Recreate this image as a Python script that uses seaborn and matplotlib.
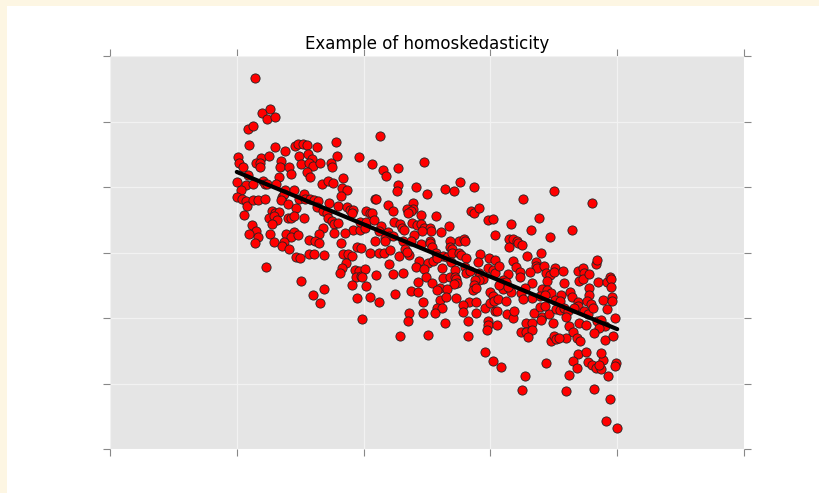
import numpy as np
import pandas as pd
import matplotlib
matplotlib.use("Agg")
import matplotlib.pyplot as plt
from matplotlib.patches import Rectangle
import seaborn as sns

# Observations, grouped by region of the x range (x, y)
pts_left_upper = [
    (1.14, 5.66), (1.20, 5.13), (1.26, 5.19), (1.24, 5.04), (1.30, 5.07), (1.09, 4.88), (1.13, 4.93),
    (1.10, 4.64), (1.30, 4.61), (1.38, 4.55), (1.46, 4.63), (1.48, 4.65), (1.52, 4.65), (1.55, 4.64),
    (1.63, 4.61), (1.78, 4.69), (1.49, 4.48), (1.56, 4.51), (1.59, 4.42), (1.79, 4.47), (1.96, 4.46),
    (1.01, 4.46), (1.02, 4.37), (1.05, 4.30), (1.19, 4.45), (1.15, 4.37), (1.18, 4.36), (1.18, 4.31),
    (1.25, 4.47), (1.35, 4.39), (1.34, 4.31), (1.41, 4.31), (1.43, 4.20), (1.33, 4.15), (1.51, 4.35),
    (1.57, 4.36), (1.60, 4.32), (1.55, 4.23), (1.58, 4.16), (1.66, 4.37), (1.74, 4.36), (1.75, 4.31),
    (1.09, 4.18), (1.00, 4.07), (1.07, 4.03), (1.13, 4.04), (1.21, 4.09), (1.22, 4.05), (1.24, 4.04),
    (1.31, 4.04), (1.67, 4.05), (1.72, 4.09), (1.76, 4.06), (1.84, 4.13), (1.83, 3.98), (1.87, 3.96),
    (1.38, 3.96), (1.45, 3.96), (1.03, 3.95),
]
pts_left_lower = [
    (1.00, 3.84), (1.04, 3.81), (1.07, 3.78), (1.08, 3.71), (1.13, 3.80), (1.17, 3.80), (1.22, 3.81),
    (1.06, 3.57), (1.28, 3.64), (1.30, 3.61), (1.33, 3.62), (1.25, 3.53), (1.29, 3.55), (1.32, 3.50),
    (1.28, 3.43), (1.36, 3.85), (1.37, 3.89), (1.35, 3.80), (1.40, 3.74), (1.47, 3.68), (1.49, 3.82),
    (1.53, 3.89), (1.54, 3.82), (1.58, 3.81), (1.61, 3.80), (1.64, 3.79), (1.40, 3.53), (1.43, 3.53),
    (1.45, 3.55), (1.53, 3.52), (1.63, 3.70), (1.68, 3.64), (1.71, 3.61), (1.72, 3.52), (1.75, 3.48),
    (1.77, 3.44), (1.80, 3.45), (1.73, 3.75), (1.80, 3.71), (1.82, 3.86), (1.87, 3.70), (1.89, 3.65),
    (1.92, 3.65), (1.91, 3.60), (1.92, 3.35), (1.97, 3.35), (1.85, 3.30), (1.77, 3.30), (1.68, 3.38),
    (1.65, 3.29), (1.57, 3.19), (1.62, 3.18), (1.65, 3.14), (1.82, 3.14), (1.12, 3.42), (1.15, 3.33),
    (1.10, 3.29), (1.17, 3.24), (1.14, 3.15), (1.26, 3.29), (1.29, 3.16), (1.39, 3.29), (1.45, 3.32),
    (1.43, 3.24), (1.48, 3.26), (1.37, 3.16), (1.36, 3.10), (1.41, 3.06), (1.47, 2.93), (1.50, 2.92),
    (1.57, 2.97), (1.61, 2.97), (1.69, 2.96), (1.84, 2.97), (1.88, 2.97), (1.91, 2.94), (1.86, 2.84),
    (1.83, 2.77), (1.81, 2.68), (1.93, 2.74), (1.96, 2.72), (1.94, 2.63), (1.98, 2.64), (1.95, 3.08),
    (1.98, 3.07), (1.23, 2.78), (1.51, 2.56), (1.69, 2.45), (1.91, 2.50), (1.60, 2.35), (1.66, 2.23),
    (1.95, 2.30),
]
pts_mid_upper = [
    (2.13, 4.78), (2.07, 4.35), (2.15, 4.26), (2.18, 4.17), (2.27, 4.29), (2.48, 4.38), (2.27, 4.03),
    (2.26, 3.94), (2.41, 4.00), (2.50, 3.90), (2.64, 3.97), (2.71, 3.94), (2.76, 4.07), (2.87, 4.00),
    (2.09, 3.82), (2.10, 3.82), (2.19, 3.73), (2.39, 3.75), (2.39, 3.67), (2.34, 3.66), (2.37, 3.64),
    (2.35, 3.61), (2.23, 3.63), (2.02, 3.64), (2.05, 3.60), (2.07, 3.60), (2.45, 3.58), (2.57, 3.56),
    (2.85, 3.64), (2.87, 3.60), (2.91, 3.68), (2.98, 3.50), (3.02, 3.51), (1.97, 3.47), (2.02, 3.47),
    (2.01, 3.38), (2.08, 3.50), (2.14, 3.41), (2.24, 3.46), (2.29, 3.43), (2.30, 3.38), (2.32, 3.34),
    (2.38, 3.45), (2.42, 3.42), (2.45, 3.43), (2.48, 3.38), (2.52, 3.38), (2.53, 3.33), (2.46, 3.33),
    (2.61, 3.32), (2.67, 3.40), (2.12, 3.33), (2.19, 3.32), (2.20, 3.25), (2.23, 3.25), (2.17, 3.22),
    (2.40, 3.27), (3.04, 3.27), (2.75, 3.18), (2.79, 3.20), (2.80, 3.17), (2.09, 3.17), (2.17, 3.17),
    (2.31, 3.17), (2.37, 3.17), (2.52, 3.17), (2.68, 3.17),
]
pts_mid_lower = [
    (2.05, 2.99), (2.12, 3.00), (2.16, 3.00), (2.21, 3.04), (2.28, 2.94), (2.36, 2.96), (2.33, 3.06),
    (2.34, 3.01), (2.45, 3.13), (2.52, 3.14), (2.54, 3.08), (2.57, 3.00), (2.58, 2.94), (2.63, 2.94),
    (2.66, 2.93), (2.68, 3.09), (2.70, 3.06), (2.70, 3.00), (2.75, 3.00), (2.77, 2.96), (2.81, 2.91),
    (2.92, 2.98), (2.99, 2.91), (2.44, 2.87), (2.51, 2.84), (2.55, 2.87), (2.58, 2.91), (2.41, 2.78),
    (2.48, 2.75), (2.62, 2.76), (2.69, 2.86), (2.72, 2.74), (2.80, 2.78), (2.81, 2.69), (2.84, 2.71),
    (2.90, 2.86), (2.91, 2.68), (2.92, 2.65), (2.94, 2.59), (2.91, 2.58), (2.98, 2.76), (3.02, 2.73),
    (3.04, 2.68), (2.20, 2.82), (2.01, 2.75), (1.99, 2.63), (2.10, 2.66), (2.23, 2.67), (2.31, 2.69),
    (2.49, 2.62), (2.63, 2.61), (2.68, 2.62), (2.72, 2.63), (2.73, 2.59), (2.74, 2.54), (2.71, 2.52),
    (2.54, 2.53), (2.60, 2.46), (2.58, 2.42), (2.66, 2.44), (2.43, 2.55), (2.02, 2.49), (2.37, 2.41),
    (2.43, 2.40), (2.25, 2.36), (2.88, 2.58), (2.87, 2.50), (2.86, 2.43), (2.89, 2.46), (3.00, 2.39),
    (3.02, 2.33), (2.60, 2.27), (2.65, 2.32), (2.73, 2.30), (2.05, 2.32), (2.12, 2.25), (2.47, 2.24),
    (2.83, 2.24), (2.89, 2.25), (2.96, 2.16), (3.00, 2.23), (3.03, 2.26), (2.58, 2.15), (2.62, 2.16),
    (2.78, 2.20), (2.36, 2.08), (2.47, 2.08), (2.56, 2.08), (2.78, 2.09), (2.89, 2.08), (3.04, 2.11),
    (1.99, 1.98), (2.35, 1.95), (2.64, 1.93), (2.82, 1.96), (2.98, 1.96), (2.98, 1.89), (2.97, 1.82),
    (2.29, 1.73), (2.51, 1.74), (2.82, 1.73), (2.96, 1.48), (3.02, 1.35),
]
pts_right_upper = [
    (3.50, 3.94), (3.26, 3.81), (3.80, 3.75), (3.16, 3.43), (3.38, 3.53), (3.32, 3.34), (3.64, 3.34),
    (3.47, 3.24), (3.15, 3.21), (3.18, 3.20), (3.21, 3.18), (3.22, 3.15), (3.25, 3.11), (3.15, 3.09),
    (3.40, 3.00), (3.29, 2.95), (3.04, 2.89), (3.07, 2.79), (3.18, 2.87), (3.20, 2.78), (3.23, 2.70),
    (3.23, 2.62), (3.36, 2.86), (3.36, 2.79), (3.37, 2.76), (3.42, 2.79), (3.44, 2.69), (3.47, 2.66),
    (3.45, 2.57), (3.31, 2.70), (3.51, 2.76), (3.50, 2.70), (3.57, 2.72), (3.14, 2.67), (3.10, 2.58),
    (3.09, 2.54), (3.12, 2.55), (3.11, 2.49), (3.10, 2.44), (3.07, 2.50), (3.33, 2.54), (3.58, 2.54),
    (3.69, 2.72), (3.73, 2.77), (3.74, 2.68), (3.70, 2.57), (3.73, 2.59), (3.78, 2.67), (3.83, 2.82),
    (3.84, 2.89), (3.78, 2.46), (3.78, 2.35), (3.85, 2.55), (3.92, 2.55), (3.94, 2.63), (3.95, 2.60),
    (3.95, 2.47), (3.96, 2.32), (3.27, 2.46), (3.16, 2.40), (3.14, 2.48), (3.41, 2.45), (3.45, 2.43),
    (3.48, 2.38), (3.56, 2.35), (3.63, 2.40), (3.64, 2.32), (3.06, 2.29), (3.24, 2.38), (3.33, 2.30),
    (3.39, 2.33), (3.43, 2.35), (3.51, 2.27), (3.55, 2.26), (3.26, 2.29), (3.12, 2.26), (3.69, 2.25),
    (3.76, 2.26), (3.89, 2.27), (3.96, 2.26),
]
pts_right_lower = [
    (3.05, 2.11), (3.13, 2.06), (3.18, 2.00), (3.19, 2.10), (3.34, 2.07), (3.39, 2.17), (3.43, 2.18),
    (3.41, 2.02), (3.40, 1.97), (3.46, 2.06), (3.49, 1.93), (3.52, 2.13), (3.55, 2.12), (3.58, 2.15),
    (3.61, 2.10), (3.60, 2.01), (3.69, 2.18), (3.66, 2.16), (3.74, 2.10), (3.77, 2.06), (3.79, 2.21),
    (3.81, 2.16), (3.92, 2.14), (3.98, 2.00), (3.84, 1.96), (3.87, 1.97), (3.90, 1.88), (3.86, 1.85),
    (3.62, 1.88), (3.65, 1.79), (3.68, 1.69), (3.71, 1.65), (3.70, 1.92), (3.75, 1.90), (3.82, 1.77),
    (3.90, 1.67), (3.97, 1.73), (3.60, 1.69), (3.05, 1.89), (3.28, 1.93), (3.33, 1.93), (3.24, 1.78),
    (3.28, 1.78), (3.33, 1.81), (3.30, 1.71), (3.48, 1.65), (3.50, 1.73), (3.52, 1.68), (3.54, 1.69),
    (3.08, 1.25), (3.44, 1.32), (3.27, 1.11), (3.25, 0.90), (3.69, 1.45), (3.75, 1.48), (3.65, 1.35),
    (3.68, 1.23), (3.77, 1.33), (3.80, 1.29), (3.83, 1.23), (3.87, 1.22), (3.89, 1.36), (3.87, 1.47),
    (3.86, 1.28), (3.99, 1.31), (3.98, 1.26), (3.62, 1.13), (3.93, 1.11), (3.60, 0.89), (3.82, 0.91),
    (3.94, 0.77), (3.91, 0.43), (4.00, 0.32),
]

# Fitted regression line end points
fit_x = [1.0, 4.0]
fit_y = [4.23, 1.83]

x_ticks = [0, 1, 2, 3, 4, 5]
y_ticks = [0, 1, 2, 3, 4, 5, 6]

sns.set_theme(style="darkgrid")
plt.rcParams["font.family"] = ["DejaVu Sans"]

obs = pd.DataFrame(
    pts_left_upper + pts_left_lower + pts_mid_upper + pts_mid_lower
    + pts_right_upper + pts_right_lower,
    columns=["x", "y"],
)
fit = pd.DataFrame({"x": fit_x, "y": fit_y})

fig = plt.figure(figsize=(8.19, 4.93), dpi=100, facecolor="#FDF6E3")
fig.add_artist(Rectangle((7 / 819, 0), 812 / 819, 487 / 493, transform=fig.transFigure,
                         facecolor="white", edgecolor="none", zorder=-10))
ax = fig.add_axes([110 / 819, 1 - 449 / 493, 634 / 819, 393 / 493])
ax.set_facecolor("#E5E5E5")

sns.scatterplot(data=obs, x="x", y="y", ax=ax, color="red", s=44,
                edgecolor="#222222", linewidth=0.6, zorder=3)
sns.lineplot(data=fit, x="x", y="y", ax=ax, color="black", linewidth=3, zorder=4)

ax.set_xlim(x_ticks[0], x_ticks[-1])
ax.set_ylim(y_ticks[0], y_ticks[-1])
ax.set_xticks(x_ticks)
ax.set_yticks(y_ticks)
ax.grid(True, color="#F2F2F2", linewidth=0.9)
ax.tick_params(which="both", direction="out", length=5, width=0.8, color="#888888",
               bottom=True, top=True, left=True, right=True,
               labelbottom=False, labelleft=False)
for s in ax.spines.values():
    s.set_visible(False)
ax.set_xlabel("")
ax.set_ylabel("")
ax.set_title("Example of homoskedasticity", fontsize=12, color="black", pad=5)

fig.savefig("out.png", dpi=100, facecolor=fig.get_facecolor())
